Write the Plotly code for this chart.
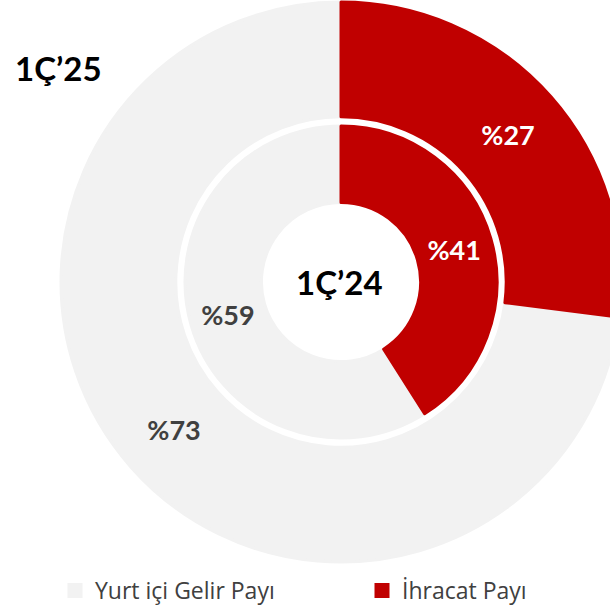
import plotly.graph_objects as go

# ---- data ----
labels = ["Yurt içi Gelir Payı", "İhracat Payı"]
share_1c25 = [73, 27]   # outer ring
share_1c24 = [59, 41]   # inner ring
ring_titles = ["1Ç’25", "1Ç’24"]

colors = ["#F2F2F2", "#C00000"]
text_colors = ["#404040", "#FFFFFF"]
FONT = "Lato"

# canvas a bit larger than the 610x607 window: the outer ring runs off the right edge
W, H = 720, 612

def pct_text(vals):
    return [f"%{v}" for v in vals]

def dom(cx, cy, r):
    # pixel centre/radius (y from top) -> paper domain
    return dict(x=[(cx - r) / W, (cx + r) / W],
                y=[(H - cy - r) / H, (H - cy + r) / H])

def start_angle(vals):
    # export slice (second) starts at 12 o'clock; domestic slice follows it clockwise
    return 360.0 * vals[1] / sum(vals)

fig = go.Figure()

fig.add_trace(go.Pie(
    labels=labels, values=share_1c25, text=pct_text(share_1c25),
    textinfo="text", textposition="inside", insidetextorientation="horizontal",
    sort=False, direction="clockwise", rotation=start_angle(share_1c25),
    hole=0.59, domain=dom(341, 282, 280),
    marker=dict(colors=colors, line=dict(color=colors, width=3)),
    textfont=dict(family=FONT, size=27, color=text_colors, weight="bold"),
    hoverinfo="label+value", name=ring_titles[0],
))

fig.add_trace(go.Pie(
    labels=labels, values=share_1c24, text=pct_text(share_1c24),
    textinfo="text", textposition="inside", insidetextorientation="horizontal",
    sort=False, direction="clockwise", rotation=start_angle(share_1c24),
    hole=0.51, domain=dom(341, 282, 156),
    marker=dict(colors=colors, line=dict(color=colors, width=3)),
    textfont=dict(family=FONT, size=27, color=text_colors, weight="bold"),
    hoverinfo="label+value", name=ring_titles[1],
))

fig.add_annotation(text=ring_titles[0], x=58 / W, y=(H - 68) / H,
                   xref="paper", yref="paper", showarrow=False,
                   xanchor="center", yanchor="middle",
                   font=dict(family=FONT, size=33, color="#000000", weight="bold"))
fig.add_annotation(text=ring_titles[1], x=339 / W, y=(H - 282) / H,
                   xref="paper", yref="paper", showarrow=False,
                   xanchor="center", yanchor="middle",
                   font=dict(family=FONT, size=33, color="#000000", weight="bold"))

fig.update_layout(
    width=W, height=H, autosize=False,
    margin=dict(l=0, r=0, t=0, b=0),
    paper_bgcolor="white", plot_bgcolor="white",
    showlegend=True,
    legend=dict(orientation="h", x=55 / W, xanchor="left", y=0, yanchor="bottom",
                font=dict(family="Open Sans", size=23, color="#404040"),
                entrywidth=262, entrywidthmode="pixels",
                bgcolor="rgba(0,0,0,0)"),
)

fig.write_html("out.html", config={"displayModeBar": False},
               post_script="document.body.style.margin='0';document.body.style.overflow='hidden';document.documentElement.style.overflow='hidden';")
